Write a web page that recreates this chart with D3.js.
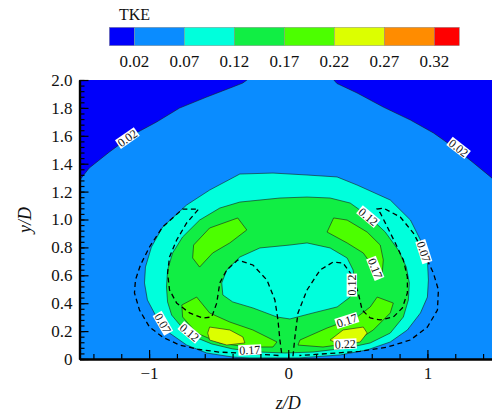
<!DOCTYPE html>
<html>
  <head>
    <meta charset="utf-8">
    <title>TKE contours</title>
    <script src="https://cdn.jsdelivr.net/npm/d3@7"></script>
    <style>
      body { margin: 0; background: #fff; }
      svg text { font-family: "Liberation Serif", "Times New Roman", serif; fill: #111; }
      .cline { fill: none; stroke: #1c1c1c; stroke-width: 0.6; }
      .dash { fill: none; stroke: #000; stroke-width: 1.3; stroke-dasharray: 5,3.5; }
      .axis path, .axis line { stroke: #000; }
    </style>
  </head>
  <body>
    <svg id="chart" width="492" height="417"></svg>

    <script>
      // contour levels and band colours (band i sits between levels[i-1] and levels[i])
      levels = [0.02, 0.07, 0.12, 0.17, 0.22, 0.27, 0.32];
      bandColors = ["#0000fa", "#0a8cff", "#00ffdc", "#11ee44", "#4cff00", "#dcff00", "#ff8c00", "#ff0000"];
      zTicks = [-1, 0, 1];
      yTicks = [0, 0.2, 0.4, 0.6, 0.8, 1.0, 1.2, 1.4, 1.6, 1.8, 2.0];

      // contour lines, [z/D, y/D]
      arc02Left = [[-1.52,1.255],[-1.43,1.369],[-1.285,1.484],[-1.119,1.606],[-0.946,1.699],[-0.781,1.799],
        [-0.586,1.878],[-0.399,1.950],[-0.327,1.978],[-0.27,2.02]];
      arc02Right = [[0.31,2.02],[0.35,1.975],[0.495,1.907],[0.683,1.806],[0.878,1.713],[1.044,1.620],
        [1.217,1.498],[1.332,1.405],[1.454,1.305],[1.53,1.24]];
      contour07 = [[-1.033,0.545],[-1.026,0.659],[-0.983,0.803],[-0.903,0.946],[-0.730,1.104],[-0.565,1.211],
        [-0.348,1.326],[-0.110,1.333],[0.135,1.319],[0.351,1.305],[0.495,1.247],[0.733,1.140],[0.878,0.996],
        [0.950,0.853],[1.000,0.710],[1.007,0.566],[1.000,0.444],[0.950,0.330],[0.856,0.208],[0.733,0.122],
        [0.567,0.065],[0.373,0.029],[0.08,0.008],[-0.28,0.008],[-0.399,0.014],[-0.586,0.043],[-0.730,0.100],
        [-0.853,0.186],[-0.947,0.301],[-1.012,0.423]];
      contour12Outer = [[-0.875,0.516],[-0.867,0.638],[-0.831,0.760],[-0.759,0.875],[-0.637,0.996],[-0.492,1.082],
        [-0.348,1.125],[-0.060,1.154],[0.135,1.161],[0.301,1.154],[0.445,1.118],[0.575,1.025],[0.697,0.910],
        [0.791,0.781],[0.848,0.660],[0.870,0.545],[0.863,0.423],[0.827,0.301],[0.733,0.186],[0.589,0.115],
        [0.423,0.079],[0.178,0.050],[-0.024,0.043],[-0.204,0.050],[-0.399,0.072],[-0.550,0.108],[-0.673,0.158],
        [-0.766,0.229],[-0.838,0.315],[-0.867,0.409]];
      contour12Hole = [[-0.478,0.545],[-0.442,0.638],[-0.348,0.731],[-0.204,0.796],[0.012,0.817],[0.135,0.832],
        [0.301,0.796],[0.423,0.724],[0.466,0.638],[0.481,0.545],[0.445,0.444],[0.351,0.373],[0.178,0.330],
        [0.012,0.287],[-0.081,0.301],[-0.254,0.366],[-0.399,0.409],[-0.470,0.459]];
      contour17UL = [[-0.363,1.011],[-0.298,0.925],[-0.420,0.832],[-0.543,0.760],[-0.637,0.659],[-0.687,0.724],
        [-0.680,0.817],[-0.565,0.939]];
      contour17UR = [[0.326,1.011],[0.423,0.996],[0.567,0.910],[0.661,0.817],[0.683,0.710],[0.675,0.616],
        [0.611,0.659],[0.539,0.760],[0.423,0.832],[0.279,0.910]];
      contour17LL = [[-0.765,0.387],[-0.658,0.444],[-0.565,0.330],[-0.420,0.265],[-0.254,0.208],[-0.081,0.122],
        [-0.110,0.086],[-0.298,0.086],[-0.492,0.115],[-0.658,0.186],[-0.759,0.301]];
      contour17LR = [[0.639,0.444],[0.755,0.401],[0.733,0.330],[0.611,0.208],[0.466,0.115],[0.250,0.086],
        [0.070,0.100],[0.084,0.136],[0.279,0.222],[0.495,0.301],[0.589,0.373]];
      contour22L = [[-0.565,0.229],[-0.420,0.208],[-0.326,0.158],[-0.312,0.115],[-0.442,0.100],[-0.565,0.136],
        [-0.579,0.186]];
      contour22R = [[0.301,0.136],[0.394,0.208],[0.539,0.229],[0.567,0.186],[0.517,0.122],[0.373,0.100]];

      // dashed curves
      dashedLeft = [[-0.07,0.025],[-0.276,0.038],[-0.50,0.05],[-0.65,0.07],[-0.78,0.10],[-0.90,0.155],
        [-0.997,0.229],[-1.069,0.351],[-1.105,0.473],[-1.098,0.566],[-1.062,0.674],[-0.997,0.803],[-0.903,0.946],
        [-0.759,1.075],[-0.644,1.075],[-0.730,0.975],[-0.802,0.853],[-0.853,0.731],[-0.867,0.616],[-0.853,0.495],
        [-0.802,0.401],[-0.709,0.330],[-0.615,0.294],[-0.550,0.301],[-0.514,0.401],[-0.492,0.545],[-0.442,0.638],
        [-0.363,0.710],[-0.254,0.674],[-0.153,0.566],[-0.096,0.423],[-0.074,0.280],[-0.060,0.136],[-0.045,0.02]];
      dashedRight = [[0.034,0.02],[0.048,0.158],[0.070,0.330],[0.135,0.495],[0.229,0.638],[0.322,0.695],
        [0.394,0.688],[0.466,0.588],[0.503,0.473],[0.531,0.351],[0.589,0.294],[0.661,0.280],[0.755,0.301],
        [0.820,0.366],[0.856,0.473],[0.856,0.588],[0.827,0.710],[0.769,0.832],[0.712,0.946],[0.661,1.047],
        [0.639,1.075],[0.683,1.082],[0.805,1.018],[0.899,0.903],[0.971,0.767],[1.043,0.616],[1.079,0.495],
        [1.072,0.351],[1.000,0.229],[0.877,0.136],[0.711,0.085],[0.517,0.055],[0.301,0.04],[0.08,0.025]];

      // contour labels: text, position, angle
      labelText = ["0.02", "0.02", "0.12", "0.07", "0.17", "0.12", "0.17", "0.22", "0.17", "0.12", "0.07"];
      labelZ = [-1.156, 1.224, 0.575, 0.974, 0.625, 0.457, 0.421, 0.409, -0.276, -0.709, -0.901];
      labelY = [1.584, 1.513, 1.020, 0.770, 0.650, 0.530, 0.276, 0.108, 0.065, 0.190, 0.256];
      labelAngle = [-35, 38, 40, 72, 68, -90, -18, -3, -3, 40, 60];

      svg = d3.select("#chart");
      margin = { top: 80, bottom: 359, left: 79.5, right: 497 };

      x = d3.scaleLinear().domain([-1.5, 1.5]).range([margin.left, margin.right]);
      y = d3.scaleLinear().domain([0, 2]).range([margin.bottom, margin.top]);
      line = d3.line()
        .x(function(d) { return x(d[0]); })
        .y(function(d) { return y(d[1]); });

      svg.append("clipPath").attr("id", "plotClip")
        .append("rect")
          .attr("x", margin.left).attr("y", margin.top)
          .attr("width", 492 - margin.left).attr("height", margin.bottom - margin.top);

      plot = svg.append("g").attr("clip-path", "url(#plotClip)");

      // background band 0.02-0.07
      plot.append("rect")
        .attr("x", margin.left).attr("y", margin.top)
        .attr("width", 492 - margin.left).attr("height", margin.bottom - margin.top)
        .attr("fill", bandColors[1]);

      // low corners (< 0.02)
      [arc02Left, arc02Right].forEach(function(arc, i) {
        corner = i === 0 ? [x.domain()[0] - 0.1, y.domain()[1] + 0.1] : [x.domain()[1] + 0.1, y.domain()[1] + 0.1];
        plot.append("path")
          .attr("d", line(arc.concat([corner])) + "Z")
          .attr("fill", bandColors[0]);
        plot.append("path").attr("class", "cline").attr("d", line(arc));
      });

      regions = [
        { band: 2, pts: contour07 },
        { band: 3, pts: contour12Outer },
        { band: 2, pts: contour12Hole },
        { band: 4, pts: contour17UL },
        { band: 4, pts: contour17UR },
        { band: 4, pts: contour17LL },
        { band: 4, pts: contour17LR },
        { band: 5, pts: contour22L },
        { band: 5, pts: contour22R }
      ];
      plot.selectAll(".region")
        .data(regions)
        .enter().append("path")
          .attr("class", "region cline")
          .attr("d", function(d) { return line(d.pts) + "Z"; })
          .style("fill", function(d) { return bandColors[d.band]; });

      plot.selectAll(".dash")
        .data([dashedLeft, dashedRight])
        .enter().append("path")
          .attr("class", "dash")
          .attr("d", line);

      // contour labels
      labels = plot.selectAll(".clabel")
        .data(labelText.map(function(t, i) {
          return { text: t, z: labelZ[i], y: labelY[i], angle: labelAngle[i] };
        }))
        .enter().append("g")
          .attr("class", "clabel")
          .attr("transform", function(d) {
            return "translate(" + x(d.z) + "," + y(d.y) + ") rotate(" + d.angle + ")";
          });
      labels.append("rect").attr("fill", "#fff");
      labels.append("text")
        .attr("text-anchor", "middle")
        .attr("dy", "0.35em")
        .style("font-size", "12px")
        .text(function(d) { return d.text; });
      labels.each(function() {
        g = d3.select(this);
        w = g.select("text").node().getComputedTextLength();
        g.select("rect")
          .attr("x", -w / 2 - 1).attr("y", -5.2)
          .attr("width", w + 2).attr("height", 10.4);
      });

      // axes
      xAxis = d3.axisBottom(x)
        .tickValues(zTicks)
        .tickSize(-9)
        .tickSizeOuter(0)
        .tickPadding(8)
        .tickFormat(function(d) { return d < 0 ? "\u2212" + Math.abs(d) : d; });
      xMinor = d3.axisBottom(x)
        .tickValues(d3.range(-1.4, 1.5, 0.2))
        .tickSize(-5)
        .tickSizeOuter(0)
        .tickFormat("");
      yAxis = d3.axisLeft(y)
        .tickValues(yTicks)
        .tickSize(-9)
        .tickSizeOuter(0)
        .tickPadding(7)
        .tickFormat(function(d) { return d === 0 ? "0" : d3.format(".1f")(d); });
      yMinor = d3.axisLeft(y)
        .tickValues(d3.range(0, 2.001, 0.04))
        .tickSize(-5)
        .tickSizeOuter(0)
        .tickFormat("");

      svg.append("g").attr("class", "axis")
        .attr("transform", "translate(0," + margin.bottom + ")")
        .call(xMinor);
      xg = svg.append("g").attr("class", "axis")
        .attr("transform", "translate(0," + margin.bottom + ")")
        .call(xAxis);
      svg.append("g").attr("class", "axis")
        .attr("transform", "translate(" + margin.left + ",0)")
        .call(yMinor);
      yg = svg.append("g").attr("class", "axis")
        .attr("transform", "translate(" + margin.left + ",0)")
        .call(yAxis);
      svg.selectAll(".axis .tick line").attr("stroke-width", 1.2);
      svg.selectAll(".axis path.domain").attr("stroke-width", 2.2);
      svg.selectAll(".axis").attr("font-family", null);
      svg.selectAll(".axis text")
        .attr("fill", "#111")
        .style("font-family", "'Liberation Serif', serif")
        .style("font-size", "17px");

      // axis titles
      svg.append("text")
        .attr("x", x(0)).attr("y", 409)
        .attr("text-anchor", "middle")
        .style("font-size", "18px").style("font-style", "italic")
        .text("z/D");
      svg.append("text")
        .attr("transform", "translate(31,220) rotate(-90)")
        .attr("text-anchor", "middle")
        .style("font-size", "18px").style("font-style", "italic")
        .text("y/D");

      // colour bar
      cb = d3.scaleLinear().domain([-0.005, 0.345]).range([109.3, 459.3]);
      edges = [-0.005].concat(levels, [0.345]);
      svg.selectAll(".cbox")
        .data(bandColors)
        .enter().append("rect")
          .attr("class", "cbox")
          .attr("x", function(d, i) { return cb(edges[i]); })
          .attr("y", 27.3)
          .attr("width", function(d, i) { return cb(edges[i + 1]) - cb(edges[i]); })
          .attr("height", 18.4)
          .attr("fill", function(d) { return d; })
          .attr("stroke", "#8a8a8a")
          .attr("stroke-width", 0.5);
      svg.selectAll(".clab")
        .data(levels)
        .enter().append("text")
          .attr("class", "clab")
          .attr("x", function(d) { return cb(d); })
          .attr("y", 66.5)
          .attr("text-anchor", "middle")
          .style("font-size", "17px")
          .text(function(d) { return d3.format(".2f")(d); });
      svg.append("text")
        .attr("x", 119).attr("y", 20)
        .style("font-size", "16px")
        .text("TKE");
    </script>
  </body>
</html>
